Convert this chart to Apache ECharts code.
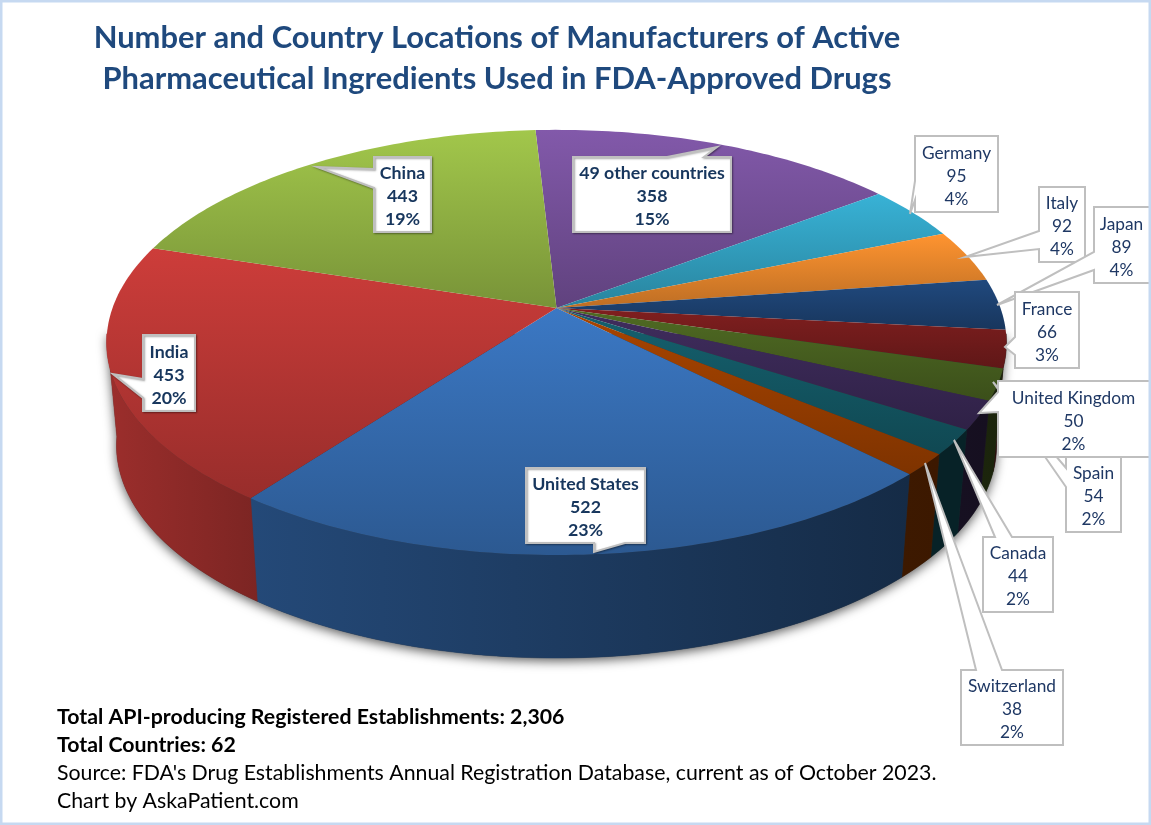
<!DOCTYPE html>
<html><head><meta charset="utf-8">
<style>html,body{margin:0;padding:0;background:#fff;overflow:hidden}#c{width:1151px;height:825px}</style>
<script src="https://cdn.jsdelivr.net/npm/echarts@6/dist/echarts.min.js"></script>
</head><body><div id="c"></div>
<script>
// ---- data (clockwise from the top of the pie) ----
const categories = ['49 other countries','Germany','Italy','Japan','France','Spain','United Kingdom','Canada','Switzerland','United States','India','China'];
const values     = [358,95,92,89,66,54,50,44,38,522,453,443];
const percents   = ['15%','4%','4%','4%','3%','2%','2%','2%','2%','23%','20%','19%'];
const boldLabels = ['49 other countries','United States','India','China'];
const titleLines = ['Number and Country Locations of Manufacturers of Active','Pharmaceutical Ingredients Used in FDA-Approved Drugs'];
const noteBold   = ['Total API-producing Registered Establishments: 2,306','Total Countries: 62'];
const notePlain  = ["Source: FDA's Drug Establishments Annual Registration Database, current as of October 2023.",'Chart by AskaPatient.com'];

// ---- colours ----
const sliceColors = ['#8259aa','#38b2d6','#ff9430','#20497e','#801f1f','#506b23','#402d5e','#15616f','#aa4500','#3b78c4','#cd3d3a','#a2c74b'];

// ---- callout layout: box [x0,y0,x1,y1], side of the tail, tail span on that side, tip ----
const calloutLayout = [
 {box:[573,157,731,232], side:'top',    a:667,b:704, tip:[717,147]},
 {box:[915,136,998,212], side:'left',   a:181,b:200, tip:[910,214]},
 {box:[1039,187,1085,262],side:'left',  a:231,b:249, tip:[965,257]},
 {box:[1094,207,1160,283],side:'left',  a:252,b:270, tip:[997,305]},
 {box:[1015,292,1079,368],side:'left',  a:337,b:355, tip:[1005,347]},
 {box:[1066,456,1121,532],side:'left',  a:468,b:487, tip:[993,382]},
 {box:[998,381,1160,457], side:'left',  a:392,b:412, tip:[979,413]},
 {box:[983,537,1053,612], side:'top',   a:995,b:1012,tip:[954,440]},
 {box:[961,670,1063,745], side:'top',   a:976,b:1002,tip:[925,463]},
 {box:[526,468,645,543],  side:'bottom',a:594,b:625, tip:[594,552]},
 {box:[143,335,195,411],  side:'left',  a:379,b:398, tip:[113,374]},
 {box:[374,157,431,232],  side:'left',  a:169,b:188, tip:[317,167]}
];

// ---- perspective model of the tilted disc ----
const CX=556.5, CY=308, RX=444, RY=207, K=0.162, DEPTH=103, SHRINK=0.978, START=-3.15;
const FONT='Lato, "Open Sans", sans-serif';
const total = values.reduce((a,b)=>a+b,0);
const cum=[START]; values.forEach((v,i)=>cum.push(cum[i]+v/total*360));
const rad=d=>d*Math.PI/180;
function topPt(t){const u=Math.sin(rad(t)),v=-Math.cos(rad(t)),w=1/(1-K*v);return [CX+RX*u*w,CY+RY*v*w];}
function botPt(t){const p=topPt(t);return [CX+(p[0]-CX)*SHRINK,p[1]+DEPTH];}
function arc(a,b,f){const n=Math.max(2,Math.ceil(Math.abs(b-a))),r=[];for(let i=0;i<=n;i++)r.push(f(a+(b-a)*i/n));return r;}
function shade(hex,f){const n=parseInt(hex.slice(1),16);return 'rgb('+[n>>16,(n>>8)&255,n&255].map(c=>Math.round(c*f)).join(',')+')';}
function wallBright(x){ // brightness along the rim, left to right
  const pts=[[107,.76],[260,.60],[905,.36],[1007,.34]];
  for(let i=1;i<pts.length;i++) if(x<=pts[i][0]){const p=pts[i-1],q=pts[i];return p[1]+(q[1]-p[1])*(x-p[0])/(q[0]-p[0]);}
  return .34;
}
const V0=97, V1=263; // visible rim range
function vertical(c0,c1){return new echarts.graphic.LinearGradient(0,0,0,1,[{offset:0,color:c0},{offset:1,color:c1}]);}
function horizontal(c0,c1){return new echarts.graphic.LinearGradient(0,0,1,0,[{offset:0,color:c0},{offset:1,color:c1}]);}

function renderWall(params,api){
  const i=api.value(0), kids=[];
  if(params.dataIndex===0){
    const outline=arc(V0,V1,botPt).concat([topPt(V1),topPt(V0)]);
    kids.push({type:'polygon',shape:{points:outline},silent:true,
      style:{fill:'#333',shadowBlur:11,shadowColor:'rgba(0,0,0,.65)',shadowOffsetY:3,shadowOffsetX:0}});
  }
  const a=Math.max(cum[i],V0), b=Math.min(cum[i+1],V1);
  if(b>a){
    const T=arc(a,b,topPt),B=arc(a,b,botPt);
    const xs=T.concat(B).map(p=>p[0]);
    const xl=Math.min(...xs),xr=Math.max(...xs);
    const grad=horizontal(shade(sliceColors[i],wallBright(xl)),shade(sliceColors[i],wallBright(xr)));
    kids.push({type:'polygon',shape:{points:T.concat(B.reverse())},style:{fill:grad,stroke:grad,lineWidth:.5}});
  }
  return {type:'group',children:kids};
}
function renderTop(params,api){
  const i=api.value(0);
  const pts=[[CX,CY]].concat(arc(cum[i],cum[i+1],topPt));
  const g=vertical(sliceColors[i],shade(sliceColors[i],.74));
  return {type:'polygon',shape:{points:pts},style:{fill:g}};
}
function renderCallout(params,api){
  const i=api.value(0), L=calloutLayout[i], [x0,y0,x1,y1]=L.box, t=L.tip;
  let pts;
  if(L.side==='left')  pts=[[x0,y0],[x1,y0],[x1,y1],[x0,y1],[x0,L.b],t,[x0,L.a]];
  if(L.side==='top')   pts=[[x0,y0],[L.a,y0],t,[L.b,y0],[x1,y0],[x1,y1],[x0,y1]];
  if(L.side==='bottom')pts=[[x0,y0],[x1,y0],[x1,y1],[L.b,y1],t,[L.a,y1],[x0,y1]];
  const bold=boldLabels.includes(categories[i]);
  const boxStyle={fill:'#fff',stroke:'#bfbfbf',lineWidth:2,lineJoin:'miter'};
  if(bold) Object.assign(boxStyle,{shadowBlur:2,shadowColor:'rgba(0,0,0,.35)',shadowOffsetX:1,shadowOffsetY:1});
  return {type:'group',children:[
    {type:'polygon',shape:{points:pts},style:boxStyle},
    {type:'text',style:{x:(x0+Math.min(x1,1149))/2,y:(y0+y1)/2+2,text:categories[i]+'\n'+values[i]+'\n'+percents[i],
      fill:bold?'#17365d':'#1f3864',font:(bold?'bold 17.8px ':'17.3px ')+FONT,align:'center',verticalAlign:'middle',lineHeight:23}}
  ]};
}
const rows=values.map((v,i)=>[i,v]);
const noteTitle=(t,top,w)=>({text:t,left:57,top,padding:0,textStyle:{fontFamily:FONT,fontSize:21.3,fontWeight:w,color:'#000'}});
const titleStyle={fontFamily:FONT,fontSize:30.9,fontWeight:'bold',color:'#1f497d'};
const option={
  animation:false,
  backgroundColor:'#fff',
  title:[
    {text:titleLines[0],left:497,top:23,textAlign:'center',padding:0,textStyle:titleStyle},
    {text:titleLines[1],left:497,top:64,textAlign:'center',padding:0,textStyle:titleStyle},
    noteTitle(noteBold[0],707,'bold'),noteTitle(noteBold[1],735,'bold'),
    noteTitle(notePlain[0],763,'normal'),noteTitle(notePlain[1],791,'normal')
  ],
  series:[
    {type:'custom',coordinateSystem:'none',z:2,silent:true,data:rows,renderItem:renderWall},
    {type:'custom',coordinateSystem:'none',z:3,silent:true,data:rows,renderItem:renderTop},
    {type:'custom',coordinateSystem:'none',z:4,silent:true,data:rows,renderItem:renderCallout}
  ],
  graphic:{elements:[{type:'rect',z:100,silent:true,shape:{x:1,y:1,width:1149,height:823},style:{fill:'none',stroke:'#c6d9f1',lineWidth:3}}]}
};
echarts.init(document.getElementById('c')).setOption(option);
</script></body></html>
